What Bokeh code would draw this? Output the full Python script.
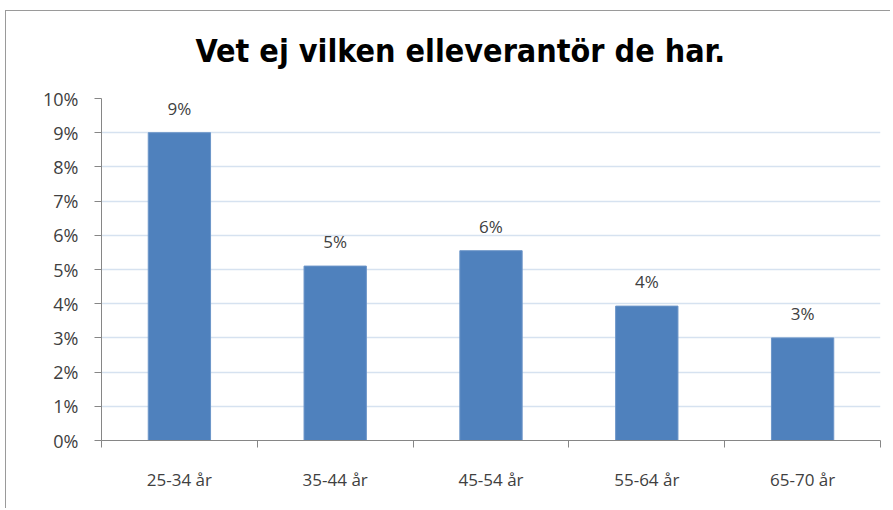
from bokeh.plotting import figure
from bokeh.models import ColumnDataSource, FixedTicker, PrintfTickFormatter, Range1d
from bokeh.embed import file_html
from bokeh.resources import INLINE
from bokeh.core.properties import value

categories = ["25-34 år", "35-44 år", "45-54 år", "55-64 år", "65-70 år"]
values = [9.0, 5.1, 5.55, 3.93, 3.0]
y_ticks = [0, 1, 2, 3, 4, 5, 6, 7, 8, 9, 10]
title = "Vet ej vilken elleverantör de har."

xs = [i + 0.5 for i in range(len(categories))]
labels = ["%d%%" % round(v) for v in values]
src = ColumnDataSource(dict(x=xs, top=values, label=labels))

p = figure(width=890, height=508, output_backend="svg", toolbar_location=None,
           x_range=Range1d(0, len(categories)), y_range=Range1d(0, 10),
           min_border_left=101, min_border_right=10, min_border_top=90, min_border_bottom=68)

p.border_fill_color = None
p.background_fill_color = "white"
p.styles = {"background": "linear-gradient(#9a9a9a, #9a9a9a) 5px 10px / 100% 1px no-repeat, "
                          "linear-gradient(#9a9a9a, #9a9a9a) 5px 10px / 1px 100% no-repeat, white"}

p.title.text = title
p.title.align = "left"
p.title.offset = 94
p.title.text_font = "DejaVu Sans Condensed"
p.title.text_font_size = "32px"
p.title.text_font_style = "bold"
p.title.text_color = "#000000"
p.title.standoff = 58

p.vbar(x="x", top="top", width=0.4, bottom=0, source=src,
       fill_color="#4F81BD", line_color="#6C95C8", line_width=1)
p.text(x="x", y="top", text="label", source=src, text_align="center",
       text_baseline="bottom", y_offset=-13, text_font=value("Open Sans"),
       text_font_size="17px", text_color="#404040")

p.outline_line_color = None
p.xgrid.grid_line_color = None
p.ygrid.grid_line_color = "#D6E2F0"
p.ygrid.grid_line_width = 1.5

p.yaxis.ticker = FixedTicker(ticks=y_ticks)
p.yaxis.formatter = PrintfTickFormatter(format="%d%%")
p.yaxis.major_tick_in = 0
p.yaxis.major_tick_out = 7
p.yaxis.minor_tick_line_color = None
p.yaxis.axis_line_color = "#868686"
p.yaxis.major_tick_line_color = "#868686"
p.yaxis.major_label_text_font = "Open Sans"
p.yaxis.major_label_text_font_size = "18px"
p.yaxis.major_label_text_color = "#404040"
p.yaxis.major_label_standoff = 16

p.xaxis.ticker = FixedTicker(ticks=xs, minor_ticks=list(range(len(categories) + 1)))
p.xaxis.major_label_overrides = {x: c for x, c in zip(xs, categories)}
p.xaxis.major_tick_line_color = None
p.xaxis.minor_tick_in = 0
p.xaxis.minor_tick_out = 7
p.xaxis.minor_tick_line_color = "#868686"
p.xaxis.axis_line_color = "#868686"
p.xaxis.major_label_text_font = "Open Sans"
p.xaxis.major_label_text_font_size = "17px"
p.xaxis.major_label_text_color = "#404040"
p.xaxis.major_label_standoff = 20

open("out.html", "w").write(file_html(p, INLINE))
